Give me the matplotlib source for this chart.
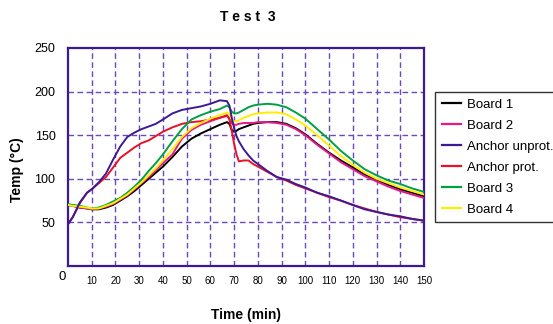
import numpy as np
import matplotlib
matplotlib.use("Agg")
import matplotlib.pyplot as plt

plt.rcParams['font.family'] = ['Liberation Sans', 'DejaVu Sans']

# time (min)
t = [0, 2, 5, 8, 10, 13, 16, 19, 22, 25, 28, 31, 34, 37, 40, 44, 48, 52, 56, 60,
     64, 67, 68, 69, 70, 71, 72, 74, 76, 78, 80, 84, 88, 92, 96, 100, 105, 110,
     115, 120, 125, 130, 135, 140, 145, 150]

board1 = [70, 69, 67, 66, 65, 65, 67, 70, 75, 80, 86, 93, 100, 107, 114, 125, 137, 146, 152, 157,
          162, 165, 163, 156, 154, 155, 157, 159, 161, 163, 164, 165, 165, 163, 158, 151, 140, 130,
          121, 113, 105, 99, 93, 88, 84, 80]
board2 = [70, 69, 67, 66, 65, 66, 68, 71, 76, 81, 88, 95, 102, 110, 118, 128, 146, 156, 162, 166,
          170, 172, 170, 164, 162, 162, 163, 164, 164, 164, 165, 165, 164, 162, 157, 150, 139, 129,
          119, 111, 103, 97, 91, 86, 82, 78]
anchor_unprot = [48, 56, 73, 84, 88, 96, 106, 122, 137, 148, 153, 157, 160, 163, 168, 175, 179, 181, 183, 186,
                 190, 189, 184, 170, 158, 149, 143, 134, 127, 121, 117, 109, 102, 99, 94, 90, 84, 80,
                 75, 70, 65, 62, 59, 57, 54, 52]
anchor_prot = [48, 56, 72, 84, 88, 95, 102, 113, 124, 130, 136, 141, 144, 149, 154, 159, 163, 165, 166, 168,
               170, 173, 168, 155, 140, 128, 120, 121, 121, 117, 114, 108, 102, 98, 93, 89, 84, 79,
               75, 70, 66, 62, 59, 56, 54, 52]
board3 = [71, 70, 69, 67, 66, 67, 70, 74, 78, 84, 91, 99, 109, 118, 128, 143, 157, 168, 173, 177,
          180, 184, 182, 177, 175, 175, 176, 179, 182, 184, 185, 186, 185, 182, 176, 169, 157, 145,
          132, 121, 111, 104, 98, 94, 89, 85]
board4 = [70, 69, 68, 67, 66, 66, 69, 72, 77, 82, 89, 96, 104, 112, 121, 134, 148, 158, 164, 169,
          173, 176, 174, 168, 166, 166, 167, 170, 172, 174, 175, 176, 176, 174, 168, 161, 150, 138,
          126, 116, 107, 100, 95, 90, 86, 82]

names = ['Board 1', 'Board 2', 'Anchor unprot.', 'Anchor prot.', 'Board 3', 'Board 4']
colors = ['black', '#E8178A', '#3D1A94', '#E8102A', '#00A043', '#FFEE00']
series = [board1, board2, anchor_unprot, anchor_prot, board3, board4]
zorders = [3, 3, 4, 3, 3, 3]

xticks = list(range(10, 151, 10))
yticks = [50, 100, 150, 200, 250]

fig = plt.figure(figsize=(5.53, 3.24), dpi=100)
ax = fig.add_axes([68/553, 1-266/324, (424-68)/553, (266-48)/324])

for s, name, c, z in zip(series, names, colors, zorders):
    ax.plot(t, s, color=c, lw=1.4, label=name, zorder=z)

ax.set_xlim(0, 150)
ax.set_ylim(0, 250)
ax.set_xticks(xticks)
ax.set_yticks(yticks)
ax.tick_params(axis='x', length=0, pad=7, labelsize=7)
ax.tick_params(axis='y', length=0, pad=9, labelsize=9)

gridc = '#6A4AB5'
for x in xticks[:-1]:
    ax.axvline(x, color=gridc, lw=1, ls=(0, (4, 2.5)), zorder=1)
for y in yticks[:-1]:
    ax.axhline(y, color=gridc, lw=1, ls=(0, (4, 2.5)), zorder=1)

for sp in ax.spines.values():
    sp.set_color('#3D1A94')
    sp.set_linewidth(1.6)

# origin label sits to the left of the x tick row
ax.text(-0.017, -0.05, '0', transform=ax.transAxes, ha='center', va='center', fontsize=9.5)

fig.text(248/553, 1-17/324, 'T e s t  3', ha='center', va='center', fontsize=10, fontweight='bold')
fig.text(246/553, 1-315/324, 'Time (min)', ha='center', va='center', fontsize=10, fontweight='bold')
fig.text(17/553, 1-170/324, 'Temp (°C)', ha='center', va='center', fontsize=10, fontweight='bold',
         rotation=90)

leg = ax.legend(loc='upper left', bbox_to_anchor=(435/553, 1-92/324), bbox_transform=fig.transFigure,
                borderaxespad=0, fontsize=9.5, frameon=True, fancybox=False, handlelength=1.5,
                handletextpad=0.45, labelspacing=0.66, borderpad=0.5)
leg.get_frame().set_edgecolor('black')
leg.get_frame().set_linewidth(1.0)
for h in leg.get_lines():
    h.set_linewidth(1.6)

fig.savefig('out.png', dpi=100)
